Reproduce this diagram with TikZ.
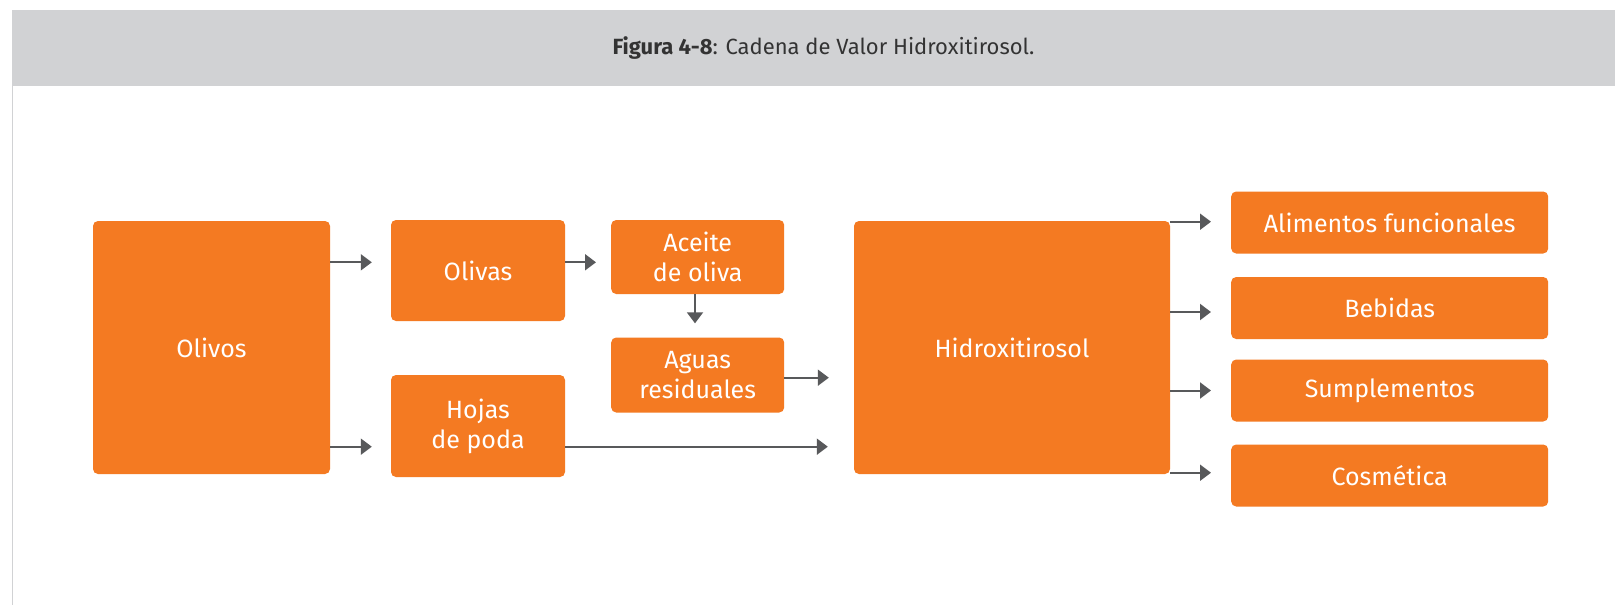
\documentclass[tikz,border=0pt]{standalone}
\usepackage{fontspec}
\setmainfont{Fira Sans}
\usetikzlibrary{arrows.meta}
\definecolor{orng}{HTML}{F47A22}
\definecolor{hdr}{HTML}{D1D2D4}
\definecolor{arrc}{HTML}{58595B}
\definecolor{ttl}{HTML}{333333}
\tikzset{
  obox/.style={fill=orng, rounded corners=5pt, text=white, align=center,
    inner sep=0pt, font=\fontsize{25}{30}\selectfont},
  arr/.style={draw=arrc, line width=2pt, -{Triangle[length=11pt,width=16pt]}},
}
\begin{document}
\begin{tikzpicture}[x=1pt,y=-1pt]
\useasboundingbox (0,0) rectangle (1615,605);
\fill[white] (0,0) rectangle (1615,605);
\fill[hdr] (12,10) rectangle (1615,86);
\draw[hdr, line width=1pt] (12,86) -- (12,605);
\node[text=ttl, font=\fontsize{22}{26}\selectfont] (title) at (823.5,48.5)
  {\textbf{Figura 4-8}: Cadena de Valor Hidroxitirosol.};

\node[obox, minimum width=237, minimum height=253] (olivos) at (211.5,347.5) {Olivos};
\node[obox, minimum width=174, minimum height=101] (olivas) at (478,270.5) {Olivas};
\node[obox, minimum width=173, minimum height=74] (aceite) at (697.7,257) {Aceite\\de oliva};
\node[obox, minimum width=173, minimum height=75] (aguas) at (697.7,375) {Aguas\\residuales};
\node[obox, minimum width=174, minimum height=102] (hojas) at (478,426) {Hojas\\de poda};
\node[obox, minimum width=316, minimum height=253] (hidro) at (1012,347.5) {Hidroxitirosol};
\node[obox, minimum width=317, minimum height=62] (alim) at (1389.7,222.5) {Alimentos funcionales};
\node[obox, minimum width=317, minimum height=62] (beb) at (1389.7,308) {Bebidas};
\node[obox, minimum width=317, minimum height=62] (sump) at (1389.7,390.5) {Sumplementos};
\node[obox, minimum width=317, minimum height=62] (cosm) at (1389.7,475.5) {Cosmética};

\draw[arr, shorten >=19pt] ([yshift=8.2pt]olivos.east |- olivas.west) -- ([yshift=8.2pt]olivas.west);
\draw[arr, shorten >=19pt] ([yshift=-20.7pt]olivos.east |- hojas.west) -- ([yshift=-20.7pt]hojas.west);
\draw[arr, shorten >=15pt] ([yshift=8.2pt]olivas.east) -- ([yshift=8.2pt]olivas.east -| aceite.west);
\draw[arr, shorten >=14pt] ([xshift=-2.7pt]aceite.south) -- ([xshift=-2.7pt]aguas.north);
\draw[arr, shorten >=25pt] ([yshift=-2.7pt]aguas.east) -- ([yshift=-2.7pt]aguas.east -| hidro.west);
\draw[arr, shorten >=26pt] ([yshift=-20.7pt]hojas.east) -- ([yshift=-20.7pt]hojas.east -| hidro.west);
\draw[arr, shorten >=20pt] ([yshift=0.8pt]alim.west -| hidro.east) -- ([yshift=0.8pt]alim.west);
\draw[arr, shorten >=20pt] ([yshift=-4pt]beb.west -| hidro.east) -- ([yshift=-4pt]beb.west);
\draw[arr, shorten >=20pt] (sump.west -| hidro.east) -- (sump.west);
\draw[arr, shorten >=20pt] ([yshift=2.8pt]cosm.west -| hidro.east) -- ([yshift=2.8pt]cosm.west);
\end{tikzpicture}
\end{document}
